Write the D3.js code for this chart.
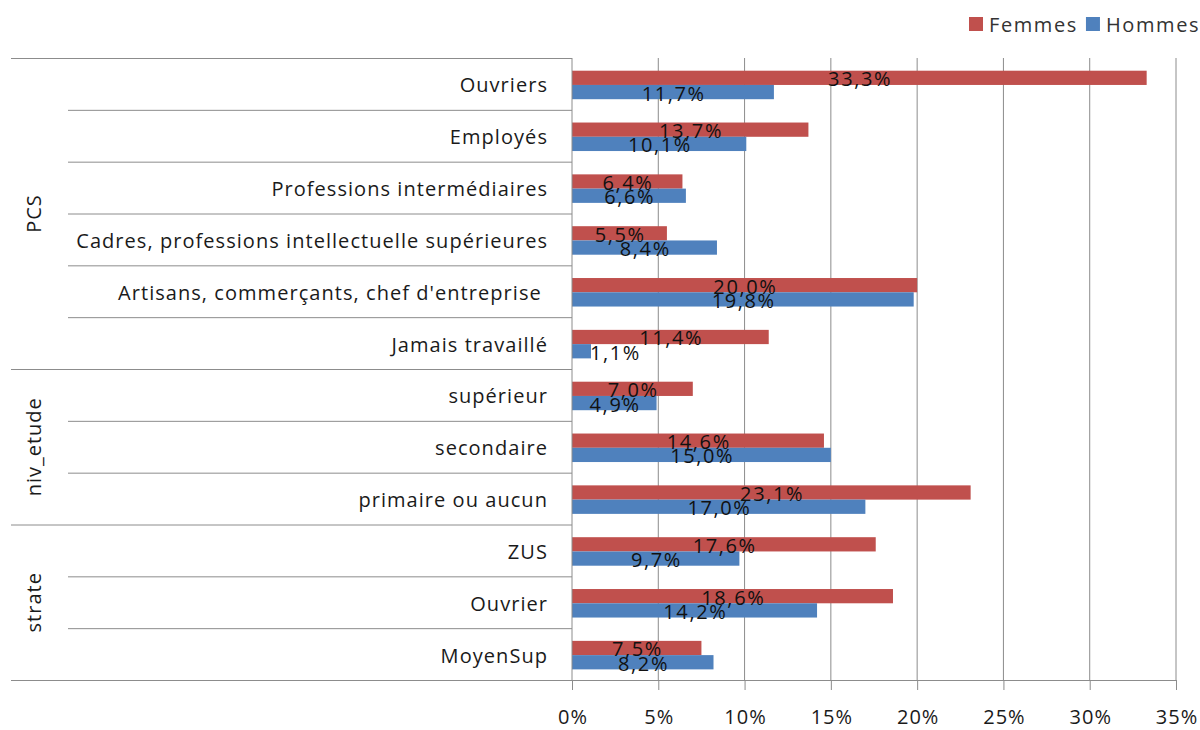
<!DOCTYPE html>
<html>
<head>
<meta charset="utf-8">
<script src="https://cdn.jsdelivr.net/npm/d3@7"></script>
<style>
  html, body { margin: 0; padding: 0; background: #fff; }
  svg { display: block; font-family: "Open Sans", Lato, sans-serif; }
</style>
</head>
<body>
<svg id="chart" width="1200" height="730"></svg>
<script>
// Categories (top to bottom) and their grouping
const categories = [
  "Ouvriers", "Employés", "Professions intermédiaires",
  "Cadres, professions intellectuelle supérieures",
  "Artisans, commerçants, chef d'entreprise\u00a0", "Jamais travaillé",
  "supérieur", "secondaire", "primaire ou aucun",
  "ZUS", "Ouvrier", "MoyenSup"
];
const groups = ["PCS", "niv_etude", "strate"];
const groupSizes = [6, 3, 3];

const seriesNames = ["Femmes", "Hommes"];
const femmes = [33.3, 13.7, 6.4, 5.5, 20.0, 11.4, 7.0, 14.6, 23.1, 17.6, 18.6, 7.5];
const hommes = [11.7, 10.1, 6.6, 8.4, 19.8, 1.1, 4.9, 15.0, 17.0, 9.7, 14.2, 8.2];
const xTicks = [0, 5, 10, 15, 20, 25, 30, 35];

const colors = { Femmes: "#C0504D", Hommes: "#4F81BD" };
const lineColor = "#8c8c8c";
const textColor = "#1a1a1a";
const fontSize = 20;

const svg = d3.select("#chart");
const plot = { left: 572, right: 1176, top: 58, bottom: 680 };
const axisLeftEdge = 11, innerColEdge = 68;

const x = d3.scaleLinear().domain([0, 35]).range([plot.left, plot.right]);
const y = d3.scaleBand().domain(categories).range([plot.top, plot.bottom]).paddingInner(0).paddingOuter(0);
const ySub = d3.scaleBand().domain(seriesNames)
  .range([y.bandwidth() * 0.245, y.bandwidth() * 0.795]).padding(0);

// vertical gridlines
svg.append("g").selectAll("line").data(xTicks.slice(1)).join("line")
  .attr("x1", d => x(d)).attr("x2", d => x(d))
  .attr("y1", plot.top).attr("y2", plot.bottom)
  .attr("stroke", lineColor).attr("stroke-width", 1);

// bars
const rows = categories.map((c, i) => ({ cat: c, Femmes: femmes[i], Hommes: hommes[i] }));
const barG = svg.append("g");
seriesNames.forEach(s => {
  barG.selectAll(null).data(rows).join("rect")
    .attr("x", x(0))
    .attr("y", d => y(d.cat) + ySub(s))
    .attr("width", d => x(d[s]) - x(0))
    .attr("height", ySub.bandwidth())
    .attr("fill", colors[s]);
});

// category axis: row separators
const catBounds = d3.range(categories.length + 1).map(i => plot.top + i * y.step());
const groupStarts = [0];
groupSizes.forEach(n => groupStarts.push(groupStarts[groupStarts.length - 1] + n));
svg.append("g").selectAll("line").data(d3.range(categories.length + 1)).join("line")
  .attr("x1", i => groupStarts.includes(i) ? axisLeftEdge : innerColEdge)
  .attr("x2", i => i === categories.length ? plot.right : plot.left)
  .attr("y1", i => catBounds[i] + 0.5).attr("y2", i => catBounds[i] + 0.5)
  .attr("stroke", lineColor).attr("stroke-width", 1);

// value axis along the bottom
const xAxis = d3.axisBottom(x).tickValues(xTicks)
  .tickFormat(d => d + "%").tickSize(10).tickSizeOuter(0).tickPadding(20);
const xg = svg.append("g").attr("transform", `translate(0,${plot.bottom})`).call(xAxis);
xg.select(".domain").remove();
xg.selectAll(".tick line").attr("stroke", lineColor);
xg.selectAll(".tick text").attr("font-size", fontSize).attr("fill", textColor)
  .attr("font-family", "'Open Sans', Lato, sans-serif")
  .attr("letter-spacing", 1).attr("dx", 0.5);

// vertical category axis line
svg.append("line").attr("x1", plot.left).attr("x2", plot.left)
  .attr("y1", plot.top).attr("y2", plot.bottom)
  .attr("stroke", lineColor).attr("stroke-width", 1);

// category labels
svg.append("g").selectAll("text").data(categories).join("text")
  .attr("x", 548).attr("y", d => y(d) + y.bandwidth() / 2 + 1)
  .attr("text-anchor", "end").attr("dominant-baseline", "central")
  .attr("font-size", fontSize).attr("fill", textColor)
  .attr("letter-spacing", 1.05)
  .style("white-space", "pre")
  .text(d => d);

// group labels (rotated)
svg.append("g").selectAll("text").data(groups).join("text")
  .attr("transform", (g, i) => {
    const cy = (catBounds[groupStarts[i]] + catBounds[groupStarts[i + 1]]) / 2;
    return `translate(33,${cy}) rotate(-90)`;
  })
  .attr("text-anchor", "middle").attr("dominant-baseline", "central")
  .attr("font-size", fontSize).attr("fill", textColor)
  .attr("letter-spacing", 1)
  .text(d => d);

// data labels, centred on each bar (pushed past the bar end if they would cross the axis)
const fmt = v => v.toFixed(1).replace(".", ",") + "%";
const lblG = svg.append("g");
seriesNames.forEach(s => {
  lblG.selectAll(null).data(rows).join("text")
    .attr("y", d => y(d.cat) + ySub(s) + ySub.bandwidth() / 2 + 1)
    .attr("text-anchor", "middle").attr("dominant-baseline", "central")
    .attr("font-size", fontSize).attr("fill", "#111")
    .attr("letter-spacing", 1.6)
    .text(d => fmt(d[s]))
    .attr("x", function(d) {
      const w = this.getComputedTextLength();
      const cx = (x(0) + x(d[s])) / 2 + 0.8;
      return cx - w / 2 < plot.left ? x(d[s]) + w / 2 - 1 : cx;
    });
});

// legend
const legend = svg.append("g").attr("transform", "translate(969,17)");
let lx = 0;
seriesNames.forEach(s => {
  const g = legend.append("g").attr("transform", `translate(${lx},0)`);
  g.append("rect").attr("width", 14).attr("height", 14).attr("fill", colors[s]);
  const t = g.append("text").attr("x", 20).attr("y", 7.5)
    .attr("dominant-baseline", "central").attr("font-size", fontSize).attr("fill", "#333")
    .attr("letter-spacing", 1.6)
    .text(s);
  lx += 20 + t.node().getComputedTextLength() + 8;
});
</script>
</body>
</html>
